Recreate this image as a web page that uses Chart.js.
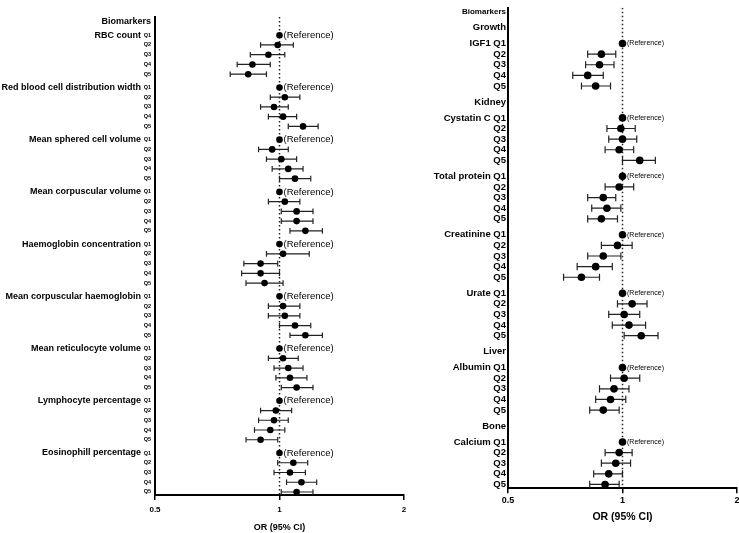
<!DOCTYPE html>
<html>
<head>
<meta charset="utf-8">
<script src="https://cdn.jsdelivr.net/npm/chart.js@4"></script>
<style>
    html, body { margin: 0; padding: 0; background: #fff; overflow: hidden; }
    #cajaIzq { position: absolute; left: 0; top: 0; width: 420px; height: 533px; }
    #cajaDer { position: absolute; left: 420px; top: 0; width: 330px; height: 533px; }
</style>
</head>
<body>
<div id="cajaIzq"><canvas id="chartIzq" width="420" height="533"></canvas></div>
<div id="cajaDer"><canvas id="chartDer" width="330" height="533"></canvas></div>
<script>
// Datos del panel izquierdo (hematologia)
const cuantiles = ['Q1', 'Q2', 'Q3', 'Q4', 'Q5'];
const gruposIzq = ['RBC count', 'Red blood cell distribution width', 'Mean sphered cell volume',
    'Mean corpuscular volume', 'Haemoglobin concentration', 'Mean corpuscular haemoglobin',
    'Mean reticulocyte volume', 'Lymphocyte percentage', 'Eosinophill percentage'];
const orIzq = [
    [1, 0.99, 0.94, 0.86, 0.84],
    [1, 1.03, 0.97, 1.02, 1.14],
    [1, 0.96, 1.01, 1.05, 1.09],
    [1, 1.03, 1.10, 1.10, 1.155],
    [1, 1.02, 0.90, 0.90, 0.92],
    [1, 1.02, 1.03, 1.09, 1.155],
    [1, 1.02, 1.05, 1.06, 1.10],
    [1, 0.98, 0.97, 0.95, 0.90],
    [1, 1.08, 1.06, 1.13, 1.10]
];
const infIzq = [
    [1, 0.90, 0.85, 0.79, 0.76],
    [1, 0.95, 0.90, 0.94, 1.05],
    [1, 0.89, 0.93, 0.96, 1.00],
    [1, 0.94, 1.01, 1.01, 1.06],
    [1, 0.93, 0.82, 0.81, 0.83],
    [1, 0.94, 0.94, 1.00, 1.06],
    [1, 0.94, 0.97, 0.98, 1.01],
    [1, 0.90, 0.89, 0.87, 0.83],
    [1, 0.99, 0.97, 1.04, 1.01]
];
const supIzq = [
    [1, 1.08, 1.03, 0.95, 0.93],
    [1, 1.12, 1.05, 1.10, 1.24],
    [1, 1.05, 1.10, 1.14, 1.19],
    [1, 1.12, 1.205, 1.205, 1.27],
    [1, 1.18, 0.99, 1.00, 1.02],
    [1, 1.12, 1.12, 1.19, 1.27],
    [1, 1.11, 1.14, 1.165, 1.205],
    [1, 1.07, 1.05, 1.03, 0.99],
    [1, 1.17, 1.155, 1.23, 1.205]
];

// Datos del panel derecho (bioquimica)
const gruposDer = ['IGF1', 'Cystatin C', 'Total protein', 'Creatinine', 'Urate', 'Albumin', 'Calcium'];
const seccionesDer = ['Growth', 'Kidney', 'Kidney', 'Kidney', 'Kidney', 'Liver', 'Bone'];
const orDer = [
    [1, 0.88, 0.87, 0.81, 0.85],
    [1, 0.99, 1.00, 0.98, 1.11],
    [1, 0.98, 0.89, 0.91, 0.88],
    [1, 0.97, 0.89, 0.85, 0.78],
    [1, 1.06, 1.01, 1.04, 1.12],
    [1, 1.01, 0.95, 0.93, 0.89],
    [1, 0.98, 0.96, 0.92, 0.90]
];
const infDer = [
    [1, 0.81, 0.80, 0.74, 0.78],
    [1, 0.91, 0.92, 0.90, 1.00],
    [1, 0.90, 0.81, 0.83, 0.81],
    [1, 0.88, 0.81, 0.76, 0.70],
    [1, 0.97, 0.92, 0.94, 1.01],
    [1, 0.93, 0.87, 0.85, 0.82],
    [1, 0.90, 0.88, 0.84, 0.82]
];
const supDer = [
    [1, 0.96, 0.95, 0.89, 0.93],
    [1, 1.08, 1.09, 1.07, 1.22],
    [1, 1.07, 0.96, 0.99, 0.97],
    [1, 1.06, 0.99, 0.94, 0.87],
    [1, 1.16, 1.11, 1.15, 1.24],
    [1, 1.11, 1.04, 1.02, 0.98],
    [1, 1.06, 1.05, 1.00, 0.98]
];

const marcasX = [0.5, 1, 2];
const fuente = "'Liberation Sans', Arial, sans-serif";

// Construye las posiciones de las filas (Q1..Q5) y de las cabeceras
function construirFilas(grupos, secciones, hueco) {
    const etiquetas = [{ pos: 0, texto: 'Biomarkers', tipo: 'titulo' }];
    const filas = [];
    let cursor = 0;
    let seccionPrevia = null;
    grupos.forEach((g, i) => {
        if (secciones && secciones[i] !== seccionPrevia) {
            cursor += hueco;
            etiquetas.push({ pos: cursor, texto: secciones[i], tipo: 'seccion' });
            seccionPrevia = secciones[i];
        }
        cursor += hueco;
        cuantiles.forEach((q, k) => {
            if (k > 0) cursor += 1;
            filas.push({ pos: cursor, grupo: i, q: k });
        });
    });
    return { etiquetas, filas, ultimo: cursor };
}

// Datasets: puntos, tapas, intervalos y linea de referencia
function crearDatasets(filas, ors, infs, sups, yMin, yMax, radio, tapa) {
    const puntos = [];
    const tapas = [];
    const intervalos = [];
    filas.forEach(f => {
        const o = ors[f.grupo][f.q];
        const lo = infs[f.grupo][f.q];
        const hi = sups[f.grupo][f.q];
        puntos.push({ x: o, y: f.pos });
        if (lo !== hi) {
            tapas.push({ x: lo, y: f.pos }, { x: hi, y: f.pos });
            intervalos.push({ x: lo, y: f.pos }, { x: hi, y: f.pos }, { x: NaN, y: NaN });
        }
    });
    return [
        { data: puntos, pointRadius: radio, backgroundColor: '#000', borderWidth: 0, order: 1 },
        { data: tapas, pointStyle: 'line', rotation: 90, pointRadius: tapa, borderColor: '#222', borderWidth: 1.2, order: 2 },
        { data: intervalos, showLine: true, spanGaps: false, pointRadius: 0, borderColor: '#222', borderWidth: 1.2, order: 3 },
        { data: [{ x: 1, y: yMin }, { x: 1, y: yMax }], showLine: true, pointRadius: 0, borderColor: '#222',
          borderWidth: 1.5, borderDash: [1.5, 2.5], order: 4 }
    ];
}

// Texto "(Reference)" junto a cada Q1, y cabecera opcional junto al eje
const textoReferencia = {
    id: 'textoReferencia',
    afterDatasetsDraw(chart, args, opts) {
        const { ctx, chartArea, scales: { x, y } } = chart;
        ctx.save();
        ctx.font = opts.font;
        ctx.fillStyle = '#000';
        ctx.textBaseline = 'middle';
        opts.filas.forEach(p => {
            ctx.fillText('(Reference)', x.getPixelForValue(1) + opts.dx, y.getPixelForValue(p));
        });
        if (opts.cabecera) {
            ctx.font = opts.cabecera.font;
            ctx.textAlign = 'right';
            ctx.fillText(opts.cabecera.texto, chartArea.left - 4, y.getPixelForValue(opts.cabecera.pos));
        }
        ctx.restore();
    }
};

function ejeX(tamTicks, tamTitulo, padTicks, alto) {
    return {
        type: 'logarithmic', min: 0.5, max: 2,
        afterBuildTicks: s => { s.ticks = marcasX.map(v => ({ value: v })); },
        ticks: { callback: v => String(v), color: '#000', padding: padTicks, autoSkip: false, maxRotation: 0,
                 font: { family: fuente, size: tamTicks, weight: 'bold' } },
        grid: { drawOnChartArea: false, drawTicks: true, tickLength: 5, color: '#000', lineWidth: 1.5 },
        border: { color: '#000', width: 2 },
        title: { display: true, text: 'OR (95% CI)', color: '#000', padding: 0,
                 font: { family: fuente, size: tamTitulo, weight: 'bold' } },
        afterFit: s => { s.height = alto; }
    };
}

// Panel izquierdo
function crearGraficoIzq() {
    const est = construirFilas(gruposIzq, null, 1.36);
    const yMin = -0.51;
    const yMax = est.ultimo + 0.31;
    const etiq = est.filas.map(f => ({ pos: f.pos, texto: cuantiles[f.q] }));
    const iniciosGrupo = est.filas.filter(f => f.q === 0);

    new Chart(document.getElementById('chartIzq'), {
        type: 'scatter',
        data: { datasets: crearDatasets(est.filas, orIzq, infIzq, supIzq, yMin, yMax, 3.3, 2.8) },
        options: {
            responsive: false, animation: false,
            layout: { padding: { left: 0, right: 16, top: 17, bottom: 0 } },
            plugins: {
                legend: { display: false }, tooltip: { enabled: false },
                textoReferencia: {
                    filas: iniciosGrupo.map(f => f.pos), font: '9.5px ' + fuente, dx: 4,
                    cabecera: { texto: est.etiquetas[0].texto, pos: est.etiquetas[0].pos, font: 'bold 9px ' + fuente }
                }
            },
            scales: {
                x: ejeX(8, 9, 5, 38),
                y: {
                    type: 'linear', position: 'left', reverse: true, min: yMin, max: yMax, weight: 0,
                    afterBuildTicks: s => { s.ticks = etiq.map(e => ({ value: e.pos })); },
                    ticks: {
                        autoSkip: false, padding: 4, color: '#000',
                        callback: (v, i) => etiq[i].texto,
                        font: { family: fuente, size: 5.5, weight: 'bold' }
                    },
                    grid: { display: false, drawTicks: false },
                    border: { display: true, color: '#000', width: 2 },
                    afterFit: s => { s.width = 13; }
                },
                yg: {
                    type: 'linear', position: 'left', reverse: true, min: yMin, max: yMax, weight: 1,
                    afterBuildTicks: s => { s.ticks = iniciosGrupo.map(f => ({ value: f.pos })); },
                    ticks: {
                        autoSkip: false, padding: 1, color: '#000',
                        callback: (v, i) => gruposIzq[i],
                        font: { family: fuente, size: 9, weight: 'bold' }
                    },
                    grid: { display: false, drawTicks: false },
                    border: { display: false },
                    afterFit: s => { s.width = 142; }
                }
            }
        },
        plugins: [textoReferencia]
    });
}

// Panel derecho
function crearGraficoDer() {
    const est = construirFilas(gruposDer, seccionesDer, 1.5);
    const yMin = -0.37;
    const yMax = est.ultimo + 0.36;
    const etiq = est.etiquetas.concat(est.filas.map(f => ({
        pos: f.pos,
        texto: f.q === 0 ? gruposDer[f.grupo] + ' ' + cuantiles[f.q] : cuantiles[f.q],
        tipo: 'q'
    }))).sort((a, b) => a.pos - b.pos);
    const iniciosGrupo = est.filas.filter(f => f.q === 0);

    new Chart(document.getElementById('chartDer'), {
        type: 'scatter',
        data: { datasets: crearDatasets(est.filas, orDer, infDer, supDer, yMin, yMax, 3.8, 3.6) },
        options: {
            responsive: false, animation: false,
            layout: { padding: { left: 0, right: 13, top: 2, bottom: 9.7 } },
            plugins: {
                legend: { display: false }, tooltip: { enabled: false },
                textoReferencia: { filas: iniciosGrupo.map(f => f.pos), font: '7px ' + fuente, dx: 4.5 }
            },
            scales: {
                x: ejeX(9, 10.5, 2, 35),
                y: {
                    type: 'linear', position: 'left', reverse: true, min: yMin, max: yMax,
                    afterBuildTicks: s => { s.ticks = etiq.map(e => ({ value: e.pos })); },
                    ticks: {
                        autoSkip: false, padding: 2, color: '#000',
                        callback: (v, i) => etiq[i].texto,
                        font: c => etiq[c.index] && etiq[c.index].tipo === 'titulo'
                            ? { family: fuente, size: 8, weight: 'bold' }
                            : { family: fuente, size: 9.5, weight: 'bold' }
                    },
                    grid: { display: false, drawTicks: false },
                    border: { display: true, color: '#000', width: 2 },
                    afterFit: s => { s.width = 88; }
                }
            }
        },
        plugins: [textoReferencia]
    });
}

document.addEventListener('DOMContentLoaded', function () {
    crearGraficoIzq();
    crearGraficoDer();
});
</script>
</body>
</html>
